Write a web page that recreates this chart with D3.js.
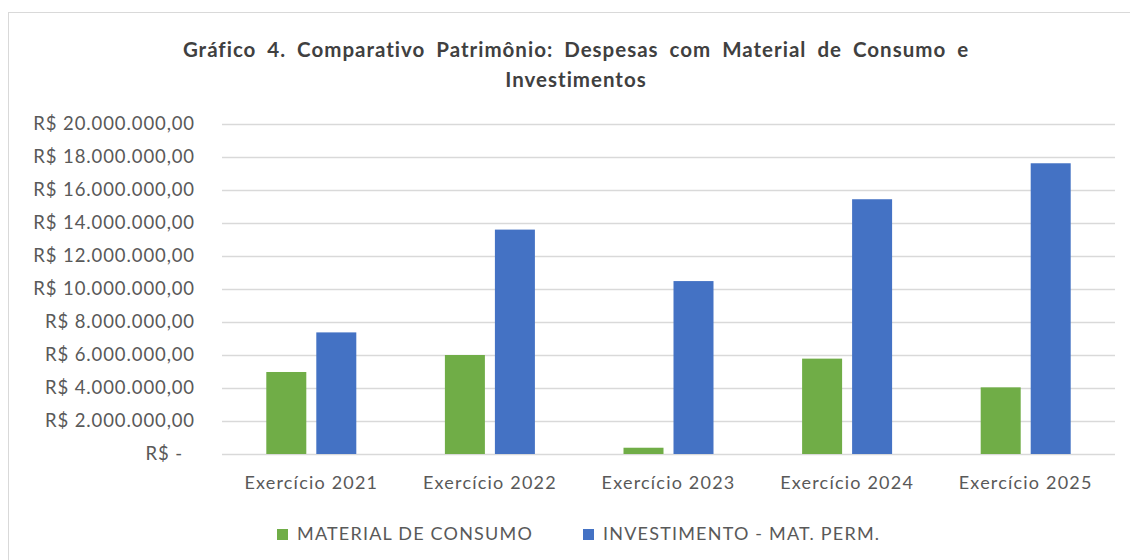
<!DOCTYPE html>
<html>
<head>
<meta charset="utf-8">
<script src="https://cdn.jsdelivr.net/npm/d3@7"></script>
<style>
  body { margin: 0; background: #fff; }
  text { font-family: Lato, "Open Sans", sans-serif; }
</style>
</head>
<body>
<div id="grafico"></div>
<script>
// Dados
const categorias = ["Exercício 2021", "Exercício 2022", "Exercício 2023", "Exercício 2024", "Exercício 2025"];
const series = ["MATERIAL DE CONSUMO", "INVESTIMENTO - MAT. PERM."];
const materialConsumo = [4970000, 6000000, 380000, 5780000, 4040000];
const investimento = [7370000, 13600000, 10480000, 15440000, 17620000];
const yTicks = [0, 2000000, 4000000, 6000000, 8000000, 10000000, 12000000, 14000000, 16000000, 18000000, 20000000];
const cores = ["#70AD47", "#4472C4"];
const titulo = ["Gráfico 4. Comparativo Patrimônio: Despesas com Material de Consumo e", "Investimentos"];

const width = 1130, height = 560;
const margin = {top: 124, right: 15, bottom: 106, left: 222};

const svg = d3.select("#grafico")
  .append("svg")
  .attr("width", width)
  .attr("height", height);

// borda da área do gráfico
svg.append("rect")
  .attr("x", 8.5).attr("y", 12.5)
  .attr("width", width).attr("height", height)
  .attr("fill", "none")
  .attr("stroke", "#d9d9d9");

// titulo em duas linhas
svg.append("text")
  .attr("text-anchor", "middle")
  .attr("font-weight", "bold")
  .attr("font-size", 20.5)
  .attr("letter-spacing", 1)
  .attr("word-spacing", 5)
  .attr("fill", "#404040")
  .selectAll("tspan")
  .data(titulo)
  .join("tspan")
  .attr("x", 576)
  .attr("y", (d, i) => 57 + i * 30)
  .text(d => d);

const x0 = d3.scaleBand()
  .domain(categorias)
  .range([margin.left, width - margin.right]);

const larguraGrupo = 90;
const x1 = d3.scaleBand()
  .domain(series)
  .range([0, larguraGrupo])
  .paddingInner(0.2);

const y = d3.scaleLinear()
  .domain([0, 20000000])
  .range([height - margin.bottom, margin.top]);

const br = d3.formatLocale({decimal: ",", thousands: ".", grouping: [3], currency: ["R$ ", ""]});
const fmt = br.format("$,.2f");

// eixo y com linhas de grade
const yAxis = svg.append("g")
  .attr("transform", `translate(${margin.left},0)`)
  .call(d3.axisLeft(y)
    .tickValues(yTicks)
    .tickSize(-(width - margin.right - margin.left))
    .tickPadding(27)
    .tickFormat(d => d === 0 ? "R$ -" : fmt(d)));

yAxis.select(".domain").remove();
yAxis.selectAll(".tick line")
  .attr("stroke", "#d9d9d9")
  .attr("stroke-width", 1.5);
yAxis.selectAll(".tick text")
  .attr("font-size", 18.5)
  .attr("letter-spacing", 0.9)
  .attr("fill", "#595959")
  .attr("dx", d => d === 0 ? -12 : 0);

// eixo x
const xAxis = svg.append("g")
  .attr("transform", `translate(0,${height - margin.bottom})`)
  .call(d3.axisBottom(x0).tickSize(0).tickPadding(22));
xAxis.select(".domain").remove();
xAxis.selectAll(".tick text")
  .attr("font-size", 18)
  .attr("letter-spacing", 1.2)
  .attr("fill", "#595959");

// barras
const dados = categorias.map((c, i) => ({categoria: c, valores: [materialConsumo[i], investimento[i]]}));

const grupos = svg.append("g")
  .selectAll("g")
  .data(dados)
  .join("g")
  .attr("transform", d => `translate(${x0(d.categoria) + (x0.bandwidth() - larguraGrupo) / 2},0)`);

grupos.selectAll("rect")
  .data(d => d.valores.map((v, i) => ({serie: series[i], valor: v, i: i})))
  .join("rect")
  .attr("x", d => x1(d.serie))
  .attr("y", d => y(d.valor))
  .attr("width", x1.bandwidth())
  .attr("height", d => y(0) - y(d.valor))
  .attr("fill", d => cores[d.i]);

// legenda
const legendaX = [277, 583];
const legenda = svg.append("g")
  .selectAll("g")
  .data(series)
  .join("g")
  .attr("transform", (d, i) => `translate(${legendaX[i]},529)`);

legenda.append("rect")
  .attr("width", 11).attr("height", 11)
  .attr("fill", (d, i) => cores[i]);

legenda.append("text")
  .attr("x", 20)
  .attr("y", 11)
  .attr("font-size", 18)
  .attr("letter-spacing", 1.2)
  .attr("fill", "#595959")
  .text(d => d);
</script>
</body>
</html>
